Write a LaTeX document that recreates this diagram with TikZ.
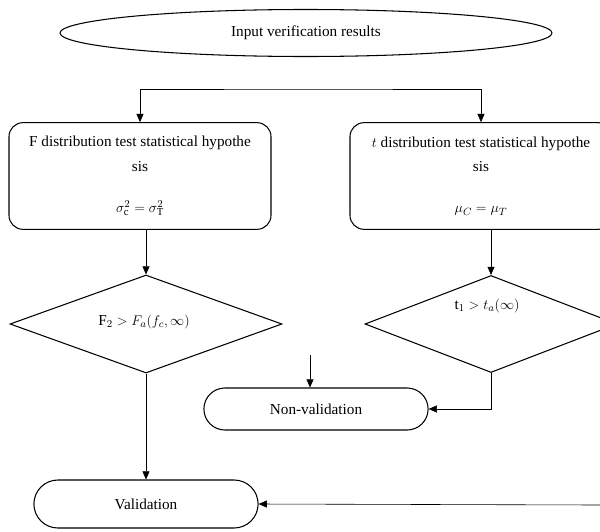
\documentclass[tikz,border=0pt]{standalone}
\usepackage{fontspec}
\setmainfont{Liberation Serif}
\usetikzlibrary{shapes.geometric,shapes.misc,arrows.meta}

\tikzset{
  every node/.style={font=\fontsize{13}{15}\selectfont},
  shape line/.style={draw, line width=0.9pt},
  startnode/.style={shape line, ellipse, minimum width=14.76cm, minimum height=1.41cm},
  testbox/.style={shape line, rounded corners=0.42cm, align=center, minimum width=7.86cm, minimum height=3.2cm, inner sep=2pt},
  decision/.style={shape line, diamond, inner sep=0pt},
  endnode/.style={shape line, rounded rectangle, minimum width=6.96cm},
  conn/.style={line width=0.5pt, -{Triangle[length=7pt,width=6pt]}},
}

\begin{document}
\begin{tikzpicture}[x=0.03cm, y=-0.03cm]
    \useasboundingbox (0,0) rectangle (600,531);
    \node[startnode] (input) at (306,33) {Input verification results};
    \node[testbox] (fbox) at (140,176) {F distribution test statistical hypothe\\[6pt]sis\\[20pt]$\sigma^{2}_{\mathrm{c}}=\sigma^{2}_{\mathrm{T}}$};
    \node[testbox] (tbox) at (481,176) {$t$ distribution test statistical hypothe\\[6pt]sis\\[20pt]$\mu_C=\mu_T$};
    \node[decision, minimum width=8.16cm, minimum height=2.94cm] (fdia) at (146,324) {};
    \node (fcond) at (144,322) {$\mathrm{F}_2>F_a(f_c,\infty)$};
    \node[decision, minimum width=7.56cm, minimum height=2.91cm] (tdia) at (491,324) {};
    \node (tcond) at (487,306) {$\mathrm{t}_1>t_a(\infty)$};
    \node[endnode, minimum height=1.26cm] (nonval) at (316,409) {Non-validation};
    \node[endnode, minimum height=1.44cm] (val) at (146,504) {Validation};
    % connectors
    \coordinate (fork) at (306,89);
    \coordinate (loose) at (310,355);
    \coordinate (farright) at (600,505);
    \draw[conn, {Triangle[length=7pt,width=6pt]}-{Triangle[length=7pt,width=6pt]}] (fbox.north) |- (fork) -| (tbox.north);
    \draw[conn] (fbox.south -| fdia.north) -- (fdia.north);
    \draw[conn] (tbox.south -| tdia.north) -- (tdia.north);
    \draw[conn] (fdia.south) -- (val.north);
    \draw[conn] (tdia.south) |- (nonval.east);
    \draw[conn] (loose) -- (loose |- nonval.north);
    \draw[conn] (farright) -- (val.east);
\end{tikzpicture}
\end{document}
